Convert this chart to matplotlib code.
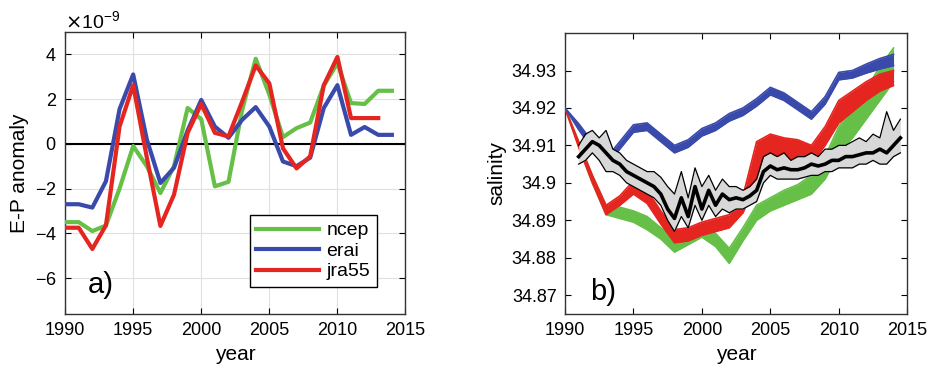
import numpy as np
import matplotlib
matplotlib.use("Agg")
import matplotlib.pyplot as plt
from matplotlib.ticker import ScalarFormatter, FormatStrFormatter

plt.rcParams['font.family'] = ['Liberation Sans', 'DejaVu Sans']

# panel a) E-P anomaly (units of 1e-9)
years = np.arange(1990, 2015)
ncep = [-3.5, -3.5, -3.9, -3.65, -2.0, -0.1, -1.0, -2.2, -1.0, 1.6, 1.1, -1.9, -1.7,
        1.5, 3.8, 2.2, 0.3, 0.7, 0.95, 2.6, 3.6, 1.82, 1.78, 2.37, 2.37]
erai = [-2.7, -2.7, -2.85, -1.67, 1.55, 3.1, 0.2, -1.75, -1.07, 0.6, 1.96, 0.77, 0.27,
        1.07, 1.64, 0.77, -0.79, -1.0, -0.62, 1.6, 2.62, 0.4, 0.75, 0.4, 0.4]
jra55 = [-3.75, -3.75, -4.7, -3.64, 0.77, 2.62, -0.6, -3.67, -2.27, 0.49, 1.78, 0.49, 0.33,
         1.88, 3.5, 2.7, -0.2, -1.1, -0.56, 2.62, 3.88, 1.15, 1.15, 1.15]

# panel b) salinity ensemble envelopes (yearly)
grn_lo = [34.920, 34.910, 34.900, 34.8915, 34.8905, 34.8895, 34.8875, 34.885, 34.8815, 34.8835,
          34.8855, 34.883, 34.8785, 34.8845, 34.890, 34.8925, 34.894, 34.8955, 34.897, 34.901,
          34.908, 34.912, 34.917, 34.922, 34.927]
grn_hi = [34.920, 34.911, 34.902, 34.894, 34.8935, 34.8925, 34.891, 34.888, 34.885, 34.887,
          34.889, 34.8865, 34.8825, 34.888, 34.894, 34.896, 34.898, 34.8995, 34.902, 34.907,
          34.915, 34.920, 34.925, 34.931, 34.936]
red_lo = [34.920, 34.9095, 34.900, 34.8915, 34.894, 34.897, 34.8945, 34.889, 34.884, 34.8845,
          34.886, 34.887, 34.888, 34.892, 34.900, 34.904, 34.904, 34.903, 34.905, 34.910,
          34.916, 34.919, 34.922, 34.9245, 34.926]
red_hi = [34.920, 34.911, 34.902, 34.894, 34.8965, 34.9005, 34.898, 34.8925, 34.8875, 34.888,
          34.8895, 34.8905, 34.8915, 34.8965, 34.911, 34.913, 34.912, 34.9115, 34.910, 34.915,
          34.922, 34.9245, 34.927, 34.929, 34.930]
blu_mid = [34.920, 34.915, 34.910, 34.9055, 34.910, 34.9145, 34.915, 34.912, 34.909, 34.9105,
           34.9135, 34.915, 34.9175, 34.919, 34.9215, 34.9245, 34.923, 34.9205, 34.918, 34.922,
           34.9285, 34.929, 34.9305, 34.9318, 34.9328]
blu_half = [0.0, 0.0008, 0.001, 0.001, 0.001, 0.001, 0.001, 0.001, 0.001, 0.001, 0.001, 0.001,
            0.001, 0.001, 0.001, 0.001, 0.001, 0.001, 0.001, 0.001, 0.001, 0.001, 0.0012,
            0.0014, 0.0015]

# observations (half-yearly)
obs_t = np.arange(1991, 2014.6, 0.5)
obs_mean = [34.907, 34.909, 34.911, 34.910, 34.908, 34.906, 34.905, 34.903, 34.902, 34.901,
            34.900, 34.899, 34.897, 34.893, 34.8905, 34.896, 34.891, 34.899, 34.893, 34.898,
            34.894, 34.897, 34.8955, 34.896, 34.8955, 34.8965, 34.898, 34.903, 34.9045, 34.9035,
            34.904, 34.9035, 34.9035, 34.904, 34.905, 34.9045, 34.905, 34.906, 34.906, 34.907,
            34.907, 34.9075, 34.908, 34.908, 34.909, 34.908, 34.910, 34.912]
obs_hi = [34.910, 34.913, 34.914, 34.912, 34.914, 34.909, 34.908, 34.906, 34.905, 34.904,
          34.903, 34.903, 34.9015, 34.899, 34.897, 34.903, 34.896, 34.904, 34.899, 34.902,
          34.898, 34.901, 34.899, 34.899, 34.898, 34.899, 34.901, 34.907, 34.908, 34.907,
          34.908, 34.906, 34.907, 34.907, 34.908, 34.907, 34.909, 34.909, 34.910, 34.910,
          34.911, 34.912, 34.911, 34.913, 34.912, 34.919, 34.914, 34.917]
obs_lo = [34.905, 34.906, 34.908, 34.906, 34.903, 34.903, 34.902, 34.900, 34.899, 34.898,
          34.897, 34.896, 34.894, 34.890, 34.887, 34.891, 34.888, 34.894, 34.890, 34.894,
          34.891, 34.893, 34.892, 34.893, 34.893, 34.894, 34.895, 34.900, 34.902, 34.901,
          34.901, 34.901, 34.901, 34.9015, 34.902, 34.902, 34.903, 34.903, 34.904, 34.904,
          34.904, 34.905, 34.905, 34.906, 34.905, 34.905, 34.907, 34.908]

GREEN = '#66c048'
BLUE = '#3a4aab'
RED = '#e5251f'

fig = plt.figure(figsize=(9.3, 3.8), dpi=100)
ax1 = fig.add_axes([0.070, 0.174, 0.366, 0.742])
ax2 = fig.add_axes([0.6075, 0.174, 0.368, 0.739])

# ---- a)
e9 = 1e-9
ax1.axhline(0, color='black', lw=1.5, zorder=2)
ax1.plot(years, np.array(ncep) * e9, color=GREEN, lw=3, label='ncep', zorder=3)
ax1.plot(years, np.array(erai) * e9, color=BLUE, lw=3, label='erai', zorder=3)
ax1.plot(years[:len(jra55)], np.array(jra55) * e9, color=RED, lw=3, label='jra55', zorder=3)
ax1.set_xlim(1990, 2015)
ax1.set_ylim(-7.6e-9, 5e-9)
ax1.set_xticks([1990, 1995, 2000, 2005, 2010, 2015])
ax1.set_yticks(np.array([-6, -4, -2, 0, 2, 4]) * e9)
fmt = ScalarFormatter(useMathText=True)
fmt.set_powerlimits((0, 0))
ax1.yaxis.set_major_formatter(fmt)
ax1.yaxis.get_offset_text().set_fontsize(14)
ax1.grid(True, color='#e0e0e0', lw=0.8)
ax1.set_axisbelow(True)
ax1.set_xlabel('year', fontsize=15)
ax1.set_ylabel('E-P anomaly', fontsize=15)
ax1.text(0.068, 0.075, 'a)', transform=ax1.transAxes, fontsize=21)
leg = ax1.legend(loc='lower right', bbox_to_anchor=(0.945, 0.06), fontsize=14,
                 handlelength=3.2, fancybox=False, framealpha=1, borderpad=0.35,
                 labelspacing=0.15, handletextpad=0.4)
leg.get_frame().set_edgecolor('black')
leg.get_frame().set_linewidth(1.0)

# ---- b)
ax2.fill_between(years, grn_lo, grn_hi, color=GREEN, lw=0, zorder=2)
ax2.plot(years, grn_lo, color=GREEN, lw=1.2, zorder=2)
ax2.plot(years, grn_hi, color=GREEN, lw=1.2, zorder=2)
ax2.fill_between(years, red_lo, red_hi, color=RED, lw=0, zorder=3)
ax2.plot(years, red_lo, color=RED, lw=1.2, zorder=3)
ax2.plot(years, red_hi, color=RED, lw=1.2, zorder=3)
blo = np.array(blu_mid) - np.array(blu_half)
bhi = np.array(blu_mid) + np.array(blu_half)
ax2.fill_between(years, blo, bhi, color=BLUE, lw=0, zorder=4)
ax2.plot(years, blo, color=BLUE, lw=1.2, zorder=4)
ax2.plot(years, bhi, color=BLUE, lw=1.2, zorder=4)
ax2.fill_between(obs_t, obs_lo, obs_hi, color='#d8d8d8', lw=0, zorder=5)
ax2.plot(obs_t, obs_lo, color='black', lw=0.9, zorder=6)
ax2.plot(obs_t, obs_hi, color='black', lw=0.9, zorder=6)
ax2.plot(obs_t, obs_mean, color='black', lw=2.6, zorder=7)
ax2.set_xlim(1990, 2015)
ax2.set_ylim(34.865, 34.94)
ax2.set_xticks([1990, 1995, 2000, 2005, 2010, 2015])
ax2.set_yticks([34.87, 34.88, 34.89, 34.90, 34.91, 34.92, 34.93])
ax2.yaxis.set_major_formatter(FormatStrFormatter('%g'))
ax2.set_xlabel('year', fontsize=15)
ax2.set_ylabel('salinity', fontsize=15)
ax2.text(0.072, 0.05, 'b)', transform=ax2.transAxes, fontsize=21)

for ax in (ax1, ax2):
    ax.tick_params(direction='in', top=True, right=True, labelsize=13, length=4, width=0.8,
                   pad=6)
    for sp in ax.spines.values():
        sp.set_color('#333333')
        sp.set_linewidth(1.0)

fig.savefig('out.png', dpi=100)
